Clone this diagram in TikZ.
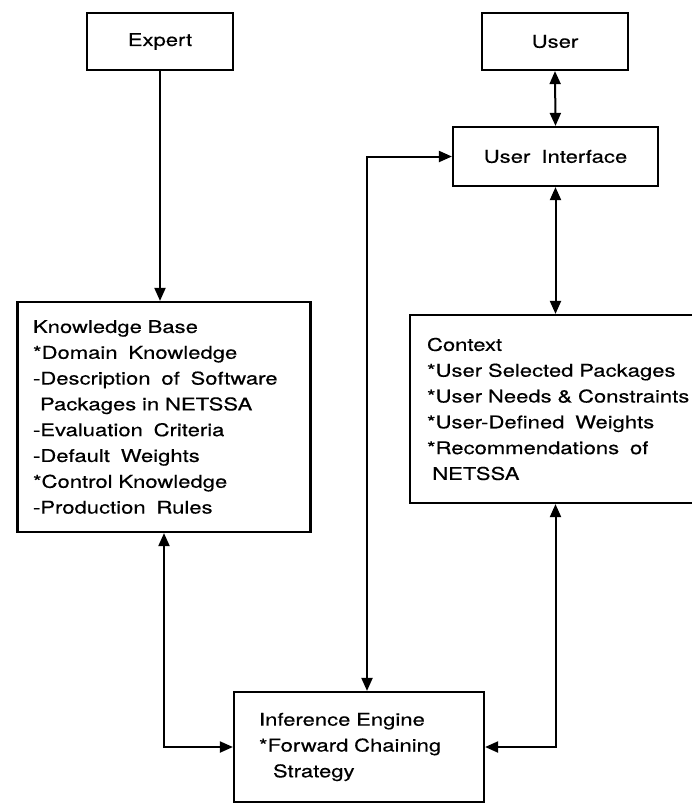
\documentclass[tikz,border=0pt]{standalone}
\usepackage{fontspec}
\setmainfont[FakeStretch=1.26,FakeBold=0.4]{TeX Gyre Heros}
\usetikzlibrary{arrows.meta, positioning}
\newcommand{\wsp}{\hspace{5pt}}
\newcommand{\boxfont}{\fontsize{17.5}{25.8}\selectfont}

\begin{document}
\begin{tikzpicture}[x=1pt, y=-1pt,
    every node/.style={font=\boxfont},
    block/.style={rectangle, draw, line width=2.2pt, inner sep=0pt},
    arrow/.style={{Triangle[length=13pt,width=11pt]}-{Triangle[length=13pt,width=11pt]}, line width=2pt},
    feed/.style={-{Triangle[length=13pt,width=11pt]}, line width=2pt}
]
    \useasboundingbox (0,0) rectangle (692,804);

    \node[block, minimum width=146pt, minimum height=57pt] (expert) at (160,41.5) {Expert};
    \node[block, minimum width=146pt, minimum height=57pt] (user) at (555,41.5) {User};
    \node[block, minimum width=205pt, minimum height=59pt] (ui) at (555.5,156.5) {User \wsp Interface};

    \node[block, minimum width=293pt, minimum height=230pt, text width=262pt, align=left] (kb) at (164,417)
        {Knowledge Base\\{}*Domain \wsp Knowledge\\-Description \wsp of \wsp Software\\\hspace*{0.4em}Packages in NETSSA\\-Evaluation \wsp Criteria\\-Default \wsp Weights\\{}*Control Knowledge\\-Production \wsp Rules};
    \node[block, minimum width=334pt, minimum height=188pt, text width=300pt, align=left] (ctx) at (577,409)
        {Context\\{}*User Selected Packages\\{}*User Needs \& Constraints\\{}*User-Defined \wsp Weights\\{}*Recommendations \wsp of\\\hspace*{0.3em}NETSSA};
    \node[block, minimum width=250pt, minimum height=110pt, text width=200pt, align=left] (ie) at (359,747)
        {Inference Engine\\{}*Forward Chaining\\\hspace*{0.8em}Strategy};

    \coordinate (bus) at (367,156);

    \draw[feed] (expert.south) -- (expert.south |- kb.north);
    \draw[arrow] (user.south) -- (ui.north);
    \draw[arrow] (ui.south) -- (ui.south |- ctx.north);
    \draw[arrow] (kb.south) |- (ie.west);
    \draw[arrow] (ui.south |- ctx.south) |- (ie.east);
    \draw[arrow] (ie.north -| bus) |- (ui.west);
\end{tikzpicture}
\end{document}
